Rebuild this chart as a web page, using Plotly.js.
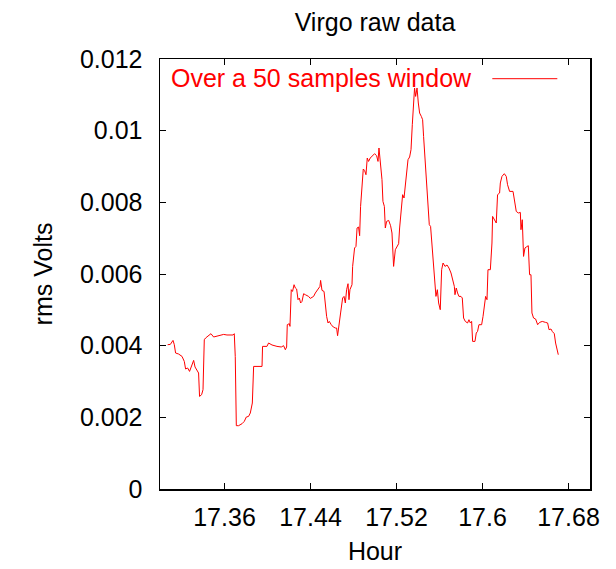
<!DOCTYPE html>
<html>
<head>
<meta charset="utf-8">
<script src="https://cdn.plot.ly/plotly-3.0.1.min.js"></script>
<style>html,body{margin:0;padding:0;background:#fff;}#chart{width:616px;height:569px;}</style>
</head>
<body>
<div id="chart"></div>
<script>
// Hour values (x)
const hours = [
17.3071,17.3096,17.3121,17.3133,17.3145,17.3173,17.3205,17.3226,17.3238,17.3257,
17.3275,17.3294,17.3313,17.3326,17.3344,17.3359,17.3368,17.3387,17.3400,17.3412,
17.3424,17.3452,17.3474,17.3499,17.3530,17.3561,17.3592,17.3623,17.3654,17.3679,
17.3691,17.3700,17.3710,17.3731,17.3763,17.3784,17.3803,17.3824,17.3840,17.3849,
17.3859,17.3871,17.3902,17.3927,17.3949,17.3954,17.3995,17.4010,17.4042,17.4088,
17.4128,17.4150,17.4166,17.4178,17.4184,17.4203,17.4209,17.4221,17.4233,17.4247,
17.4259,17.4271,17.4284,17.4296,17.4308,17.4321,17.4336,17.4352,17.4382,17.4398,
17.4429,17.4445,17.4463,17.4475,17.4488,17.4494,17.4507,17.4526,17.4538,17.4550,
17.4563,17.4575,17.4593,17.4612,17.4631,17.4643,17.4652,17.4661,17.4680,17.4699,
17.4712,17.4724,17.4736,17.4749,17.4758,17.4767,17.4786,17.4792,17.4810,17.4823,
17.4833,17.4847,17.4857,17.4866,17.4879,17.4891,17.4903,17.4916,17.4928,17.4940,
17.4956,17.4978,17.4996,17.5015,17.5028,17.5037,17.5049,17.5065,17.5074,17.5087,
17.5096,17.5108,17.5127,17.5145,17.5158,17.5167,17.5173,17.5189,17.5207,17.5220,
17.5229,17.5245,17.5257,17.5270,17.5282,17.5294,17.5307,17.5322,17.5335,17.5347,
17.5359,17.5368,17.5378,17.5391,17.5403,17.5415,17.5431,17.5443,17.5452,17.5465,
17.5477,17.5499,17.5505,17.5517,17.5530,17.5542,17.5554,17.5567,17.5580,17.5592,
17.5607,17.5620,17.5633,17.5651,17.5670,17.5688,17.5707,17.5726,17.5738,17.5744,
17.5756,17.5768,17.5781,17.5800,17.5812,17.5824,17.5840,17.5861,17.5874,17.5887,
17.5899,17.5908,17.5930,17.5942,17.5954,17.5967,17.5992,17.6005,17.6017,17.6029,
17.6042,17.6051,17.6073,17.6088,17.6094,17.6110,17.6128,17.6140,17.6159,17.6166,
17.6181,17.6203,17.6221,17.6233,17.6252,17.6284,17.6296,17.6314,17.6333,17.6352,
17.6358,17.6370,17.6382,17.6395,17.6407,17.6426,17.6438,17.6451,17.6460,17.6475,
17.6494,17.6513,17.6531,17.6556,17.6587,17.6606,17.6619,17.6637,17.6649,17.6668,
17.6680,17.6693,17.6705
];
// rms Volts (y)
const rmsVolts = [
0.004027,0.004035,0.004147,0.004027,0.003795,0.003767,0.003700,0.003561,0.003349,0.003377,
0.003282,0.003421,0.003589,0.003405,0.003310,0.003237,0.002584,0.002632,0.002771,0.004166,
0.004214,0.004278,0.004334,0.004242,0.004259,0.004287,0.004314,0.004298,0.004306,0.004298,
0.004334,0.003700,0.001767,0.001767,0.001822,0.001887,0.002009,0.002026,0.002121,0.002233,
0.002400,0.003421,0.003421,0.003405,0.003421,0.003980,0.003980,0.004074,0.004019,0.003980,
0.003963,0.003999,0.003887,0.003963,0.004585,0.004613,0.004538,0.005562,0.005514,0.005701,
0.005609,0.005581,0.005283,0.005330,0.005191,0.005235,0.005450,0.005422,0.005375,0.005319,
0.005375,0.005470,0.005562,0.005609,0.005654,0.005821,0.005542,0.005514,0.005096,0.004817,
0.004633,0.004677,0.004585,0.004521,0.004493,0.004493,0.004278,0.004446,0.004912,0.005330,
0.005375,0.005191,0.005562,0.005729,0.005283,0.005562,0.005701,0.006212,0.006726,0.006770,
0.007284,0.007312,0.007069,0.007887,0.008540,0.008930,0.008891,0.008771,0.009237,0.009142,
0.009237,0.009301,0.009357,0.009301,0.009142,0.009516,0.009098,0.008632,0.008026,0.007887,
0.007284,0.007468,0.007496,0.007348,0.007144,0.006399,0.006212,0.006678,0.006770,0.006846,
0.007284,0.007747,0.008213,0.008121,0.008445,0.008819,0.009190,0.009265,0.009469,0.010167,
0.010817,0.011191,0.010956,0.011191,0.010772,0.010493,0.010398,0.010306,0.009840,0.009282,
0.008540,0.007887,0.007376,0.007328,0.006770,0.006399,0.005654,0.005375,0.005562,0.005191,
0.005004,0.006120,0.006307,0.006212,0.006251,0.006167,0.006028,0.005841,0.005654,0.005422,
0.005609,0.005470,0.005375,0.005375,0.005330,0.004772,0.004677,0.004633,0.004725,0.004633,
0.004677,0.004119,0.004119,0.004353,0.004398,0.004585,0.004585,0.004817,0.005096,0.005375,
0.005283,0.006120,0.006120,0.006865,0.007607,0.007515,0.007423,0.008213,0.008260,0.008540,
0.008724,0.008799,0.008724,0.008492,0.008305,0.008305,0.008073,0.007747,0.007702,0.007719,
0.007236,0.007515,0.006491,0.006726,0.006753,0.006790,0.005980,0.005980,0.004912,0.004772,
0.004744,0.004585,0.004649,0.004677,0.004649,0.004633,0.004446,0.004465,0.004398,0.004334,
0.004074,0.003935,0.003748
];
const xTickVals = [17.36, 17.44, 17.52, 17.6, 17.68];
const xTickText = ["17.36", "17.44", "17.52", "17.6", "17.68"];
const yTickVals = [0, 0.002, 0.004, 0.006, 0.008, 0.01, 0.012];
const yTickText = ["0", "0.002", "0.004", "0.006", "0.008", "0.01", "0.012"];
const seriesName = "Over a 50 samples window";

const FONT = "Liberation Sans, Arial, sans-serif";
const FS = 25;
const trace = {
  x: hours, y: rmsVolts, type: "scatter", mode: "lines",
  name: seriesName, line: {color: "#ff0000", width: 1}, showlegend: false
};
const axisCommon = {
  showgrid: false, zeroline: false, showline: true, linecolor: "#000", linewidth: 1.5,
  mirror: "allticks", ticks: "inside", ticklen: 6, tickcolor: "#000", tickwidth: 1,
  tickfont: {family: FONT, size: FS, color: "#000"}
};
const layout = {
  width: 616, height: 569,
  margin: {l: 160, r: 26, t: 59, b: 80},
  paper_bgcolor: "#fff", plot_bgcolor: "#fff",
  font: {family: FONT, size: FS, color: "#000"},
  title: {text: "Virgo raw data", font: {family: FONT, size: FS, color: "#000"},
          x: 0.5, xref: "paper", y: 1 - 22/569, yref: "container", yanchor: "middle"},
  xaxis: Object.assign({}, axisCommon, {
    range: [17.30, 17.70], tickmode: "array", tickvals: xTickVals, ticktext: xTickText,
    ticklabelstandoff: 5,
    title: {text: "Hour", font: {family: FONT, size: FS, color: "#000"}, standoff: 13}
  }),
  yaxis: Object.assign({}, axisCommon, {
    range: [0, 0.012], tickmode: "array", tickvals: yTickVals, ticktext: yTickText,
    ticklabelstandoff: 11,
    title: {text: "rms Volts", font: {family: FONT, size: FS, color: "#000"}, standoff: 20}
  }),
  annotations: [{
    text: seriesName, xref: "paper", yref: "paper", x: 0.022, y: 0.9565,
    xanchor: "left", yanchor: "middle", showarrow: false,
    font: {family: FONT, size: FS, color: "#ff0000"}
  }],
  shapes: [{
    type: "line", xref: "paper", yref: "paper", x0: 0.7728, x1: 0.924, y0: 0.9542, y1: 0.9542,
    line: {color: "#ff0000", width: 1}
  }]
};
Plotly.newPlot("chart", [trace], layout, {displayModeBar: false, staticPlot: true});
</script>
</body>
</html>
